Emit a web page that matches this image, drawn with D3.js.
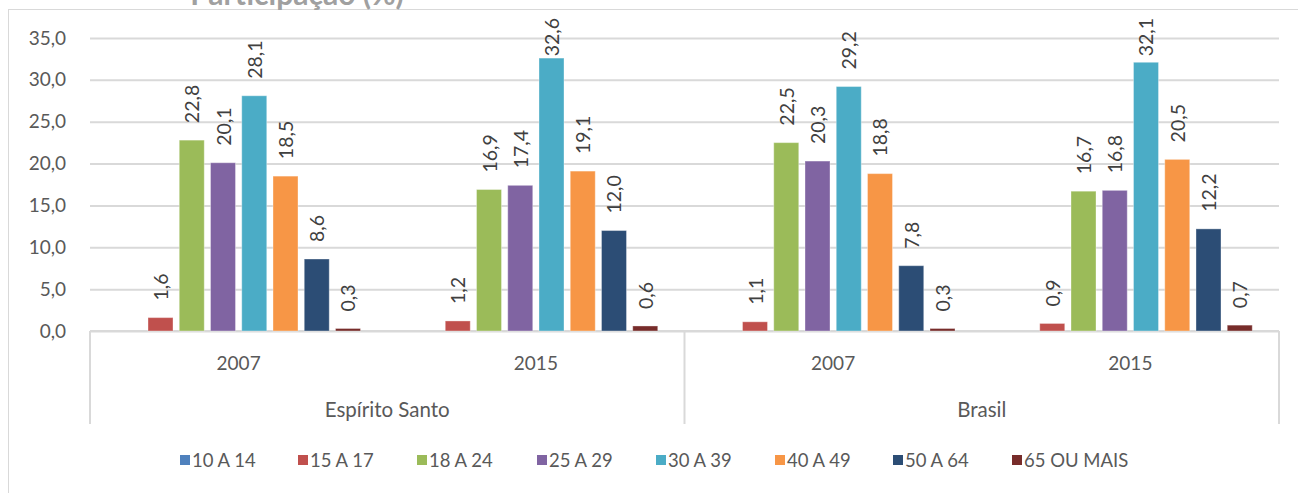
<!DOCTYPE html>
<html><head><meta charset="utf-8">
<script src="https://cdn.jsdelivr.net/npm/d3@7"></script>
<style>body{margin:0;background:#fff}svg{display:block}text{font-family:Lato,"Open Sans",sans-serif}</style>
</head><body><svg id="c" width="1298" height="493"></svg>
<script>
const regions = ["Espírito Santo", "Brasil"];
const years = ["2007", "2015"];
const seriesNames = ["10 A 14", "15 A 17", "18 A 24", "25 A 29", "30 A 39", "40 A 49", "50 A 64", "65 OU MAIS"];
const seriesColors = ["#4f81bd", "#c0504d", "#9bbb59", "#8064a2", "#4bacc6", "#f79646", "#2c4d75", "#772c2a"];
// values per series, order: ES 2007, ES 2015, BR 2007, BR 2015
const v10a14 = [null, null, null, null];
const v15a17 = [1.6, 1.2, 1.1, 0.9];
const v18a24 = [22.8, 16.9, 22.5, 16.7];
const v25a29 = [20.1, 17.4, 20.3, 16.8];
const v30a39 = [28.1, 32.6, 29.2, 32.1];
const v40a49 = [18.5, 19.1, 18.8, 20.5];
const v50a64 = [8.6, 12.0, 7.8, 12.2];
const v65mais = [0.3, 0.6, 0.3, 0.7];
const yTicks = [0, 5, 10, 15, 20, 25, 30, 35];
const title = "Participação (%)";

const seriesValues = [v10a14, v15a17, v18a24, v25a29, v30a39, v40a49, v50a64, v65mais];
const groups = [];
regions.forEach(r => years.forEach(y => groups.push(r + "|" + y)));

const svg = d3.select("#c");
const L = 90, R = 1279, T = 38, B = 331;
const fmt = d => d.toFixed(1).replace(".", ",");
const gray = "#595959";

// outer chart border
svg.append("rect").attr("x", 8.5).attr("y", 9.5).attr("width", 1320).attr("height", 520)
  .attr("fill", "none").attr("stroke", "#d9d9d9").attr("stroke-width", 1);

// title (cut off at top, as in the reference)
svg.append("text").attr("x", 297).attr("y", 5).attr("text-anchor", "middle")
  .attr("font-size", 30).attr("font-weight", "bold").attr("fill", "#a0a0a0").text(title);

const y = d3.scaleLinear().domain([0, 35]).range([B, T]);
const x0 = d3.scaleBand().domain(groups).range([L, R]).paddingInner(0.159).paddingOuter(0.0795);
const x1 = d3.scaleBand().domain(seriesNames).range([0, x0.bandwidth()]).paddingInner(0.2).paddingOuter(0.1);

// gridlines + y axis labels
const yAxis = d3.axisLeft(y).tickValues(yTicks).tickSize(-(R - L)).tickFormat(fmt).tickPadding(24);
const ga = svg.append("g").attr("transform", `translate(${L},0)`).call(yAxis);
ga.select(".domain").remove();
ga.selectAll(".tick line").attr("stroke", "#d9d9d9").attr("stroke-width", 2);
ga.selectAll(".tick text").attr("fill", gray).attr("font-size", 19).attr("font-family", "Lato");

// category axis
svg.append("line").attr("x1", L).attr("x2", R).attr("y1", B).attr("y2", B).attr("stroke", "#d9d9d9").attr("stroke-width", 2);
const sepX = [L, (L + R) / 2, R];
sepX.forEach(sx => svg.append("line").attr("x1", sx).attr("x2", sx).attr("y1", B).attr("y2", 424)
  .attr("stroke", "#d9d9d9").attr("stroke-width", 2));

groups.forEach(g => {
  svg.append("text").attr("x", x0(g) + x0.bandwidth() / 2).attr("y", 370).attr("text-anchor", "middle")
    .attr("font-size", 19).attr("fill", gray).text(g.split("|")[1]);
});
regions.forEach((r, i) => {
  svg.append("text").attr("x", (sepX[i] + sepX[i + 1]) / 2).attr("y", 417).attr("text-anchor", "middle")
    .attr("font-size", 20.5).attr("fill", gray).text(r);
});

// bars
seriesNames.forEach((s, si) => {
  const vals = seriesValues[si];
  const gs = svg.append("g");
  groups.forEach((g, gi) => {
    const v = vals[gi];
    if (v == null) return;
    const bx = x0(g) + x1(s);
    gs.append("rect").attr("x", bx).attr("y", y(v)).attr("width", x1.bandwidth()).attr("height", B - y(v))
      .attr("fill", seriesColors[si]).attr("stroke", "#ffffff").attr("stroke-opacity", 0.35).attr("stroke-width", 1);
    const cx = bx + x1.bandwidth() / 2;
    const t = gs.append("text").attr("font-size", 19.5).attr("fill", "#404040").attr("dominant-baseline", "central")
      .attr("text-anchor", "start").text(fmt(v));
    const len = t.node().getComputedTextLength();
    const yy = Math.max(y(v) - 17, 18 + len);
    t.attr("transform", `translate(${cx},${yy}) rotate(-90)`);
  });
});

// legend
const legX = [180, 298, 417, 537, 656, 775, 893, 1012];
seriesNames.forEach((s, i) => {
  svg.append("rect").attr("x", legX[i]).attr("y", 455).attr("width", 10).attr("height", 10).attr("fill", seriesColors[i]);
  svg.append("text").attr("x", legX[i] + 12).attr("y", 467).attr("font-size", 18.5).attr("fill", gray).text(s);
});
</script></body></html>
